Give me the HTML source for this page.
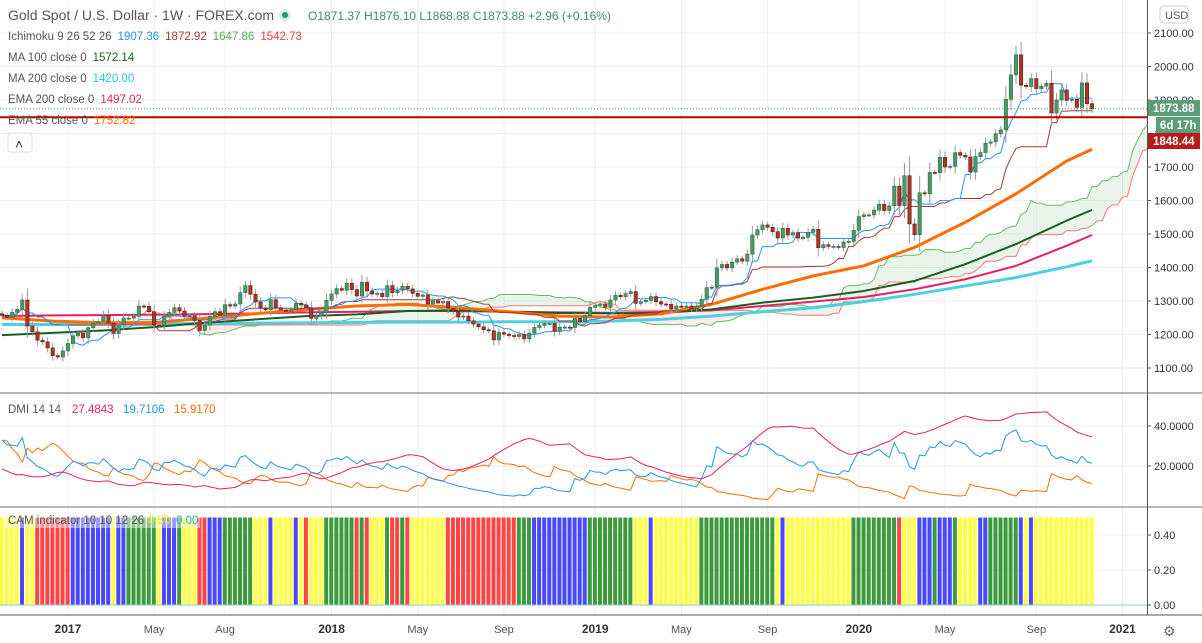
<!DOCTYPE html>
<html><head><meta charset="utf-8"><style>
html,body{margin:0;padding:0;background:#fff;width:1202px;height:643px;overflow:hidden;font-family:"Liberation Sans",sans-serif}
svg{display:block}
text{font-family:"Liberation Sans",sans-serif}
</style></head><body>
<svg id="c" width="1202" height="643" viewBox="0 0 1202 643"></svg>
<script>
// ---- data ----
const closes=[1257,1251,1266,1275,1303,1225,1208,1183,1178,1160,1137,1133,1151,
1173,1196,1204,1190,1220,1234,1238,1257,1234,1203,1229,1249,1249,1254,1285,1284,1268,1228,1227,1254,1266,1280,1270,1255,1256,1242,1212,1228,1254,1268,1257,1289,1285,1291,1325,1346,1320,1297,1279,1274,1304,1280,1273,1269,1274,1293,1288,1280,1248,1255,1266,1302,
1321,1337,1332,1353,1334,1315,1356,1330,1321,1323,1313,1346,1325,1332,1344,1336,1323,1314,1318,1291,1301,1294,1298,1278,1269,1252,1255,1241,1231,1223,1214,1211,1184,1206,1201,1197,1194,1200,1187,1204,1221,1227,1233,1233,1209,1222,1222,1221,1248,1238,1256,1281,
1287,1291,1281,1303,1317,1313,1322,1328,1293,1298,1302,1313,1298,1291,1290,1276,1285,1281,1285,1277,1285,1305,1340,1341,1399,1409,1399,1416,1426,1419,1440,1497,1513,1527,1520,1507,1488,1517,1497,1504,1488,1490,1505,1514,1459,1468,1463,1463,1460,1476,1478,1511,
1552,1557,1557,1571,1589,1570,1584,1643,1585,1674,1530,1498,1623,1620,1684,1683,1729,1700,1702,1743,1735,1730,1685,1731,1743,1771,1775,1799,1811,1902,1975,2035,1944,1940,1964,1934,1941,1950,1861,1900,1930,1899,1902,1878,1951,1889,1873.88];
const firstOpen=1262;
const maIdx=[0,10,20,30,40,50,60,70,80,90,100,110,120,130,140,150,160,170,180,190,200,210,215];
const ema55=[1250,1240,1235,1236,1248,1262,1275,1285,1290,1280,1268,1255,1252,1262,1290,1335,1375,1405,1460,1535,1620,1718,1753];
const sma100=[1198,1205,1212,1222,1235,1245,1255,1260,1270,1272,1268,1264,1263,1264,1275,1295,1310,1330,1360,1410,1470,1540,1572];
const sma200=[1230,1230,1231,1232,1233,1234,1235,1236,1237,1237,1238,1238,1240,1245,1255,1268,1280,1298,1320,1345,1370,1402,1420];
const ema200=[1255,1257,1258,1259,1261,1263,1266,1268,1270,1270,1268,1266,1265,1267,1272,1285,1298,1312,1335,1365,1405,1465,1497];
// CAM state runs: [end week index (exclusive, in x pixels converted below), state]
const camRunEndX=[22,27,33,68,113,117,127,155,163,178,183,199,209,224,255,270,274,295,300,305,310,325,355,360,365,370,386,390,402,405,408,447,517,532,587,632,648,653,698,775,780,784,850,896,900,916,931,936,951,960,977,987,1020,1025,1027,1032,1100];
const camRunState=['Y','B','Y','R','B','Y','B','G','Y','B','G','Y','R','B','G','Y','B','Y','B','Y','R','Y','G','R','G','R','Y','G','R','G','R','Y','R','G','B','G','Y','B','Y','G','Y','B','Y','G','R','Y','B','G','B','G','Y','B','G','B','Y','B','Y'];
const priceTicks=[2100,2000,1900,1800,1700,1600,1500,1400,1300,1200,1100];
const dmiTicks=[40,20];
const camTicks=[0.4,0.2,0];
const timeLabels=[["2017",13,1],["May",30,0],["Aug",44,0],["2018",65,1],["May",82,0],["Sep",99,0],["2019",117,1],["May",134,0],["Sep",151,0],["2020",169,1],["May",186,0],["Sep",204,0],["2021",221,1]];

// ---- scales ----
const S='http://www.w3.org/2000/svg', svg=document.getElementById('c');
const X=i=>2+i*5.07, Y=p=>33+(2100-p)*0.335, YD=v=>506-2*v, YC=v=>605-v*175;
function el(t,a,p){const e=document.createElementNS(S,t);for(const k in a)e.setAttribute(k,a[k]);(p||svg).appendChild(e);return e;}
function tx(s,x,y,a,p){const e=el('text',Object.assign({x:x,y:y},a),p);e.textContent=s;return e;}

const N=closes.length,O=[],H=[],L=[];
for(let i=0;i<N;i++){const o=i?closes[i-1]:firstOpen,c=closes[i],d=Math.abs(c-o);O.push(o);H.push(Math.max(o,c)+d*0.35+7);L.push(Math.min(o,c)-d*0.35-7);}

const grid=el('g',{});


timeLabels.forEach(t=>el('line',{x1:X(t[1]),x2:X(t[1]),y1:0,y2:615,stroke:'#eceef2'},grid));
priceTicks.forEach(p=>el('line',{x1:0,x2:1147,y1:Y(p),y2:Y(p),stroke:'#eceef2'},grid));
dmiTicks.forEach(v=>el('line',{x1:0,x2:1147,y1:YD(v),y2:YD(v),stroke:'#eceef2'},grid));
camTicks.forEach(v=>el('line',{x1:0,x2:1147,y1:YC(v),y2:YC(v),stroke:'#eceef2'},grid));

const defs=el('defs',{});
const cp=el('clipPath',{id:'cm'},defs);el('rect',{x:0,y:0,width:1147,height:392},cp);
const cp2=el('clipPath',{id:'cd'},defs);el('rect',{x:0,y:395,width:1147,height:111},cp2);
const main=el('g',{'clip-path':'url(#cm)'});



const hh=(a,b)=>{let m=-1e9;for(let k=Math.max(0,a);k<=b;k++)m=Math.max(m,H[k]);return m;};
const ll=(a,b)=>{let m=1e9;for(let k=Math.max(0,a);k<=b;k++)m=Math.min(m,L[k]);return m;};
const ten=[],kij=[],sa=[],sb=[];
for(let i=0;i<N;i++){ten.push((hh(i-8,i)+ll(i-8,i))/2);kij.push((hh(i-25,i)+ll(i-25,i))/2);sa.push((ten[i]+kij[i])/2);sb.push((hh(i-51,i)+ll(i-51,i))/2);}
for(let i=0;i<N-1;i++){const x1=X(i+25),x2=X(i+26);const up=sa[i]>=sb[i];
 const poly=el('polygon',{points:`${x1},${Y(sa[i])} ${x2},${Y(sa[i+1])} ${x2},${Y(sb[i+1])} ${x1},${Y(sb[i])}`,fill:up?'rgba(76,175,80,0.12)':'rgba(244,67,54,0.1)'},main);
 
 }
function line(arr,xf,yf,col,w,p,name){const pts=arr.map((v,i)=>xf(i)+','+yf(v)).join(' ');const e=el('polyline',{points:pts,fill:'none',stroke:col,'stroke-width':w,'stroke-linejoin':'round'},p);
 
 return e;}
line(sa,i=>X(i+25),Y,'#66bb6a',1,main,'ichimoku-span-a');
line(sb,i=>X(i+25),Y,'#ef7b73',1,main,'ichimoku-span-b');
line(sma200,i=>X(maIdx[i]),Y,'#4dd0e1',3,main,'ma-200-line');
line(ema200,i=>X(maIdx[i]),Y,'#e91e63',2,main,'ema-200-line');
line(sma100,i=>X(maIdx[i]),Y,'#1b5e20',2,main,'ma-100-line');
line(ema55,i=>X(maIdx[i]),Y,'#ff6d00',3,main,'ema-55-line');
line(kij,X,Y,'#a33a3a',1,main,'ichimoku-kijun');
line(ten,X,Y,'#2196f3',1,main,'ichimoku-tenkan');
for(let i=0;i<N;i++){const up=closes[i]>=O[i],g=el('g',{},main);
 
 
 el('line',{x1:X(i),x2:X(i),y1:Y(H[i]),y2:Y(L[i]),stroke:'#999','stroke-width':1},g);
 const t=Y(Math.max(O[i],closes[i])),b=Y(Math.min(O[i],closes[i]));
 el('rect',{x:X(i)-1.7,y:t,width:3.4,height:Math.max(1,b-t),fill:up?'#4a9a68':'#a8392a',stroke:up?'#2e6b45':'#6b1c12','stroke-width':0.6},g);}
const hl=el('line',{x1:0,x2:1147,y1:Y(1848.44),y2:Y(1848.44),stroke:'#c00000','stroke-width':2});


const cl=el('line',{x1:0,x2:1147,y1:Y(1873.88),y2:Y(1873.88),stroke:'#3f8f5f','stroke-width':1,'stroke-dasharray':'1,2'});



// DMI
const pdm=[0],mdm=[0],tr=[H[0]-L[0]];
for(let i=1;i<N;i++){const u=H[i]-H[i-1],d=L[i-1]-L[i];pdm.push(u>d&&u>0?u:0);mdm.push(d>u&&d>0?d:0);tr.push(Math.max(H[i]-L[i],Math.abs(H[i]-closes[i-1]),Math.abs(L[i]-closes[i-1])));}
let sT=tr[0]*14,sP=8*14,sM=8*14,adx=25;const dip=[],dim=[],adxA=[];
for(let i=0;i<N;i++){sT=sT-sT/14+tr[i];sP=sP-sP/14+pdm[i];sM=sM-sM/14+mdm[i];const p=100*sP/sT,m=100*sM/sT;dip.push(p);dim.push(m);const dx=100*Math.abs(p-m)/(p+m||1);adx=(adx*13+dx)/14;adxA.push(adx*0.8);}
const dg=el('g',{'clip-path':'url(#cd)'});


line(dim,X,YD,'#ff6d00',1,dg,'dmi-minus-line');
line(dip,X,YD,'#2196f3',1,dg,'dmi-plus-line');
line(adxA,X,YD,'#e91e63',1,dg,'adx-line');

// CAM
const camCol={Y:'#ffff44',B:'#4848ff',G:'#3c9a3c',R:'#ff4444'};
const cg=el('g',{});


for(let i=0;i<N;i++){const x=X(i);let k=0;while(k<camRunEndX.length-1&&x>=camRunEndX[k])k++;
 const r=el('rect',{x:x-2.3,y:YC(0.5),width:4.0,height:YC(0)-YC(0.5),fill:camCol[camRunState[k]]},cg);
 
 }
el('line',{x1:0,x2:1147,y1:YC(0),y2:YC(0),stroke:'#8fc9d8','stroke-width':1},cg);

el('line',{x1:0,x2:1202,y1:393,y2:393,stroke:'#b8b8b8','stroke-width':2});
el('line',{x1:0,x2:1202,y1:507,y2:507,stroke:'#b8b8b8','stroke-width':2});
el('line',{x1:0,x2:1202,y1:615,y2:615,stroke:'#555','stroke-width':1});
el('line',{x1:1147.5,x2:1147.5,y1:0,y2:615,stroke:'#555','stroke-width':1});
const ax=el('g',{'font-size':11,fill:'#333'});


priceTicks.forEach(p=>{el('line',{x1:1147,x2:1151,y1:Y(p),y2:Y(p),stroke:'#555'},ax);tx(p.toFixed(2),1154,Y(p)+4,{},ax);});
dmiTicks.forEach(v=>{el('line',{x1:1147,x2:1151,y1:YD(v),y2:YD(v),stroke:'#555'},ax);tx(v.toFixed(4),1154,YD(v)+4,{},ax);});
camTicks.forEach(v=>{el('line',{x1:1147,x2:1151,y1:YC(v),y2:YC(v),stroke:'#555'},ax);tx(v.toFixed(2),1154,YC(v)+4,{},ax);});
const xa=el('g',{'font-size':12,fill:'#444'});


timeLabels.forEach(t=>tx(t[0],X(t[1]),633,{'text-anchor':'middle','font-weight':t[2]?'bold':'normal','fill':t[2]?'#333':'#555','font-size':t[2]?12:11},xa));

const b1=el('g',{});
el('rect',{x:1148,y:100,width:52,height:16,fill:'#5b9e78'},b1);tx('1873.88',1153,112,{fill:'#fff','font-size':11.5,'font-weight':'bold'},b1);
const b2=el('g',{});
el('rect',{x:1156,y:117,width:44,height:16,fill:'#5b9e78'},b2);tx('6d 17h',1160,129,{fill:'#fff','font-size':11.5,'font-weight':'bold'},b2);
const b3=el('g',{});
el('rect',{x:1148,y:133,width:52,height:16,fill:'#b71c1c'},b3);tx('1848.44',1153,145,{fill:'#fff','font-size':11.5,'font-weight':'bold'},b3);
const ub=el('g',{});
el('rect',{x:1160,y:6,width:28,height:17,rx:4,fill:'#fff',stroke:'#ccc'},ub);tx('USD',1165,19,{'font-size':11,fill:'#555'},ub);

const lg=el('g',{'font-size':11.5});


tx('Gold Spot / U.S. Dollar · 1W · FOREX.com',8,20,{'font-size':14,fill:'#555'},lg);
el('circle',{cx:285,cy:15,r:6,fill:'#d8efe8'},lg);el('circle',{cx:285,cy:15,r:3,fill:'#0f9d7a'},lg);
tx('O1871.37  H1876.10  L1868.88  C1873.88  +2.96 (+0.16%)',308,20,{'font-size':12,fill:'#3f8f5f','xml:space':'preserve'},lg);
function leg(y,lab,vals){const t=tx('',8,y,{fill:'#555'},lg);const s=document.createElementNS(S,'tspan');s.textContent=lab;t.appendChild(s);
 vals.forEach(v=>{const q=document.createElementNS(S,'tspan');q.setAttribute('dx',6);q.setAttribute('fill',v[1]);q.textContent=v[0];t.appendChild(q);});}
leg(40,'Ichimoku 9 26 52 26',[['1907.36','#2196f3'],['1872.92','#a33a3a'],['1647.86','#4caf50'],['1542.73','#f44336']]);
leg(61,'MA 100 close 0',[['1572.14','#1b5e20']]);
leg(82,'MA 200 close 0',[['1420.00','#26c6da']]);
leg(103,'EMA 200 close 0',[['1497.02','#e91e63']]);
leg(124,'EMA 55 close 0',[['1752.82','#ff6d00']]);
const cb=el('g',{});
el('rect',{x:8,y:133,width:24,height:19,rx:3,fill:'#fff',stroke:'#ddd'},cb);tx('˄',15,149,{'font-size':14,fill:'#333'},cb);
tx('DMI 14 14',8,413,{fill:'#555','font-size':11.5},lg);
[['27.4843','#e91e63',72],['19.7106','#2196f3',123],['15.9170','#ff6d00',174]].forEach(v=>tx(v[0],v[2],413,{fill:v[1],'font-size':11.5},lg));
el('rect',{x:4,y:511,width:196,height:17,fill:'rgba(255,255,255,0.45)'},lg);
tx('CAM indicator 10 10 12 26',8,524,{fill:'#555','font-size':11.5},lg);
tx('0.50',148,524,{fill:'#e6e600','font-size':11.5},lg);
tx('0.00',176,524,{fill:'#2aa6d6','font-size':11.5},lg);
const gear=tx('⚙',1163,636,{'font-size':14,fill:'#666'});


</script>
</body></html>
